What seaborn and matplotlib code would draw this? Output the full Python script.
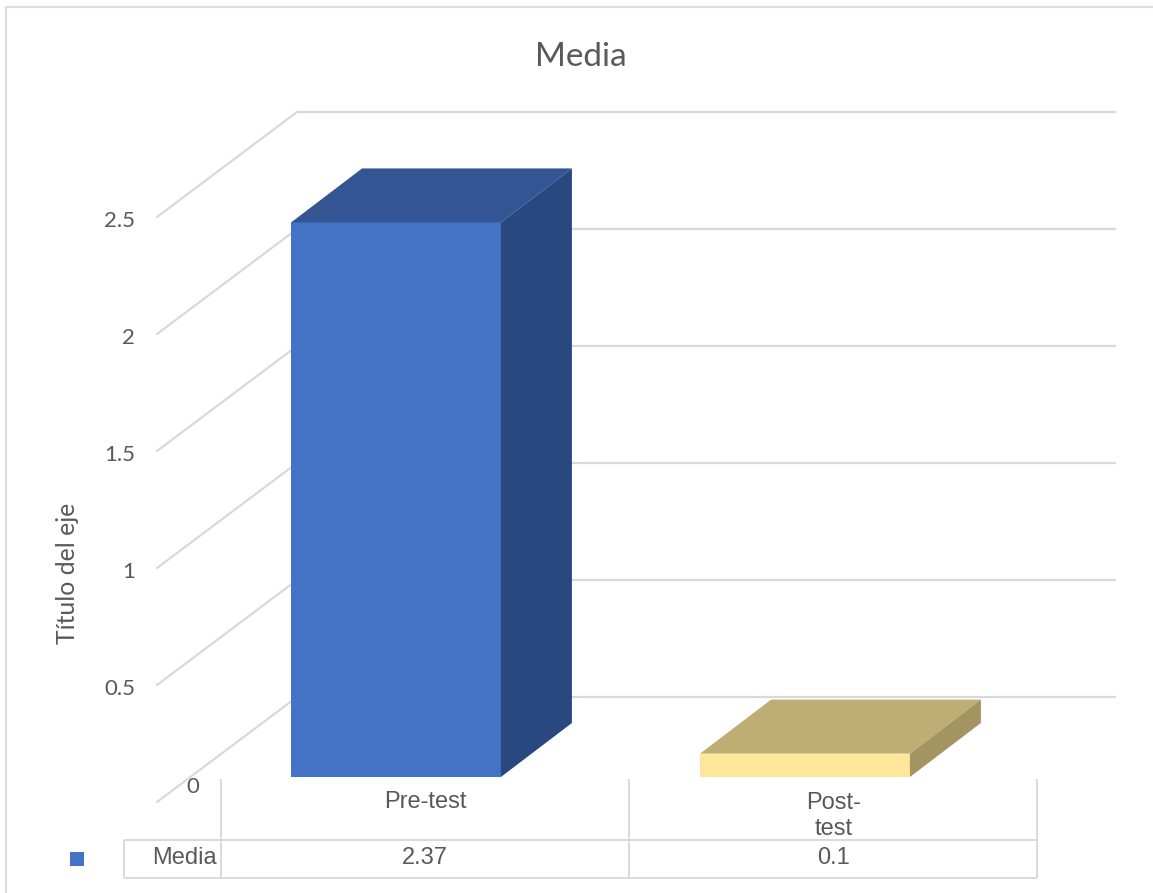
# Media pre-test / post-test, 3D style column chart with data table
import numpy as np
import pandas as pd
import seaborn as sns
import matplotlib.pyplot as plt
from matplotlib.patches import Polygon, Rectangle
from matplotlib.transforms import Affine2D

categories = ['Pre-test', 'Post-test']
axis_labels = ['Pre-test', 'Post-\ntest']
values = [2.37, 0.1]
value_labels = ['2.37', '0.1']
y_ticks = [0, 0.5, 1, 1.5, 2, 2.5]
y_tick_labels = ['0', '0.5', '1', '1.5', '2', '2.5']
front_colors = ['#4472C4', '#FFE699']
top_colors = ['#335593', '#BFAE73']
side_colors = ['#2A4880', '#A39462']

W, H = 1153, 893
GREY = '#D9D9D9'
TEXT = '#595959'

sns.set_theme(style='white')
plt.rcParams['font.family'] = ['Lato', 'DejaVu Sans']

# scale of the chart in pixels
X0, X_STEP = 396, 409
Y0, Y_STEP = 777, 234

fig = plt.figure(figsize=(W / 100, H / 100), dpi=100)
ax = fig.add_axes([0, 0, 1, 1])
df = pd.DataFrame({'cat': categories, 'val': values})
sns.barplot(data=df, x='cat', y='val', hue='cat', palette=front_colors, saturation=1,
            width=0.513, legend=False, ax=ax, zorder=3, linewidth=0, edgecolor='none')
ax.set_xlim(-X0 / X_STEP, (W - X0) / X_STEP)
ax.set_ylim(-(H - Y0) / Y_STEP, Y0 / Y_STEP)
ax.axis('off')

# pixel coords for the table and frame
px = Affine2D().scale(1, -1).translate(0, H)


def to_x(p):
    return (p - X0) / X_STEP


def to_y(p):
    return (Y0 - p) / Y_STEP


# walls: floor front edge, back wall
front_y = to_y(802)
back_y = to_y(697)
left_front, left_back, right_back = to_x(157), to_x(297), to_x(1115)
for t in y_ticks:
    ax.plot([left_front, left_back, right_back], [t + front_y, t + back_y, t + back_y],
            color=GREY, lw=1.6, zorder=1.5, solid_joinstyle='miter')

# depth faces, built from the bars seaborn drew
dx, dy = 71 / X_STEP, 54 / Y_STEP
for bar, top_c, side_c in zip(ax.patches, top_colors, side_colors):
    x, w, h = bar.get_x(), bar.get_width(), bar.get_height()
    ax.add_patch(Polygon([(x, h), (x + w, h), (x + w + dx, h + dy), (x + dx, h + dy)],
                         facecolor=top_c, edgecolor='none', zorder=3))
    ax.add_patch(Polygon([(x + w, 0), (x + w + dx, dy), (x + w + dx, h + dy), (x + w, h)],
                         facecolor=side_c, edgecolor='none', zorder=3))

# y tick labels, the 0 sits lower right and is cut off by the table
for t, lab in zip(y_ticks, y_tick_labels):
    if t == 0:
        txt = ax.text(to_x(199), to_y(787), lab, ha='right', va='center', color=TEXT,
                      fontsize=16, zorder=1)
        txt.set_clip_path(Rectangle((0, 0), W, H - 778, transform=None))
        txt.set_clip_on(True)
    else:
        ax.text(to_x(135), t + to_y(806), lab, ha='right', va='center', color=TEXT,
                fontsize=16, zorder=1)

ax.text(to_x(581), to_y(57), 'Media', ha='center', va='center', color=TEXT, fontsize=24)
ax.text(to_x(68), to_y(573), 'Título del eje', ha='center', va='center', rotation=90,
        color=TEXT, fontsize=17.8)

# frame
for xs, ys in [([6, 6], [7, H]), ([6, W], [7, 7])]:
    ax.plot(xs, ys, color='#DDDDDD', lw=1.6, transform=px, clip_on=False)

# data table
col_edges = [221, 629, 1037]
table_left, table_top, table_mid, table_bottom = 124, 779, 840, 878
tbl = dict(color=GREY, lw=1.4, transform=px, solid_capstyle='butt')
ax.plot([table_left, col_edges[-1]], [table_mid, table_mid], **tbl)
ax.plot([table_left, col_edges[-1]], [table_bottom, table_bottom], **tbl)
ax.plot([table_left, table_left], [table_mid, table_bottom], **tbl)
for e in col_edges:
    ax.plot([e, e], [table_top, table_bottom], **tbl)

font_tbl = ['Liberation Sans', 'DejaVu Sans']
for i in range(len(categories)):
    mid = (col_edges[i] + col_edges[i + 1]) / 2
    two_lines = '\n' in axis_labels[i]
    ax.text(mid + (1 if two_lines else 0), 816 if two_lines else 802, axis_labels[i], transform=px,
            ha='center', va='center', color=TEXT, fontsize=17, family=font_tbl, linespacing=1.2)
    ax.text(mid, 858, value_labels[i], transform=px, ha='center', va='center', color=TEXT,
            fontsize=17, family=font_tbl)
ax.text(217, 858, 'Media', transform=px, ha='right', va='center', color=TEXT, fontsize=17,
        family=font_tbl)
ax.add_patch(Rectangle((70, 852), 14, 14, transform=px, facecolor=front_colors[0], edgecolor='none'))

fig.savefig('out.png', dpi=100)
